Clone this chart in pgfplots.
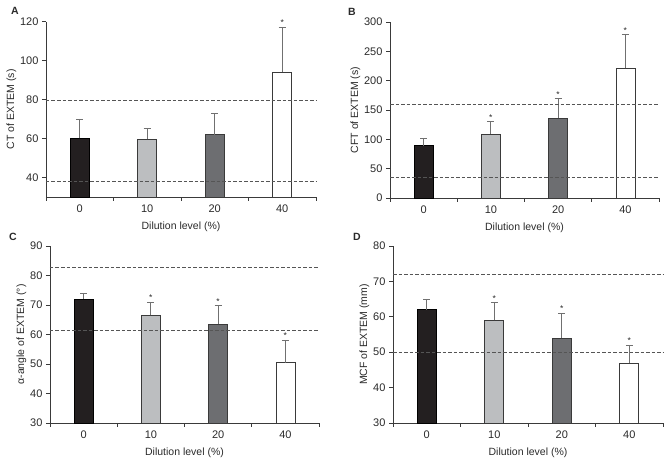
\documentclass[border=0pt]{standalone}
\usepackage{fontspec}
\setmainfont{Liberation Sans}
\usepackage{pgfplots}
\pgfplotsset{compat=1.18}

\definecolor{barblack}{HTML}{231F20}
\definecolor{barlight}{HTML}{BCBEC0}
\definecolor{bardark}{HTML}{6D6E71}
\definecolor{axgray}{HTML}{3A3A3A}
\definecolor{txtgray}{HTML}{2A2A2A}
\definecolor{errgray}{HTML}{707070}
\definecolor{dashgray}{HTML}{555555}

\pgfplotsset{
  panel/.style={
    scale only axis, width=270pt, height=176pt,
    axis x line*=bottom, axis y line*=left,
    axis line style={axgray, line width=0.7pt},
    xmin=-0.5, xmax=3.5,
    xtick={0,1,2,3}, xticklabels={0,10,20,40},
    major x tick style={draw=none},
    minor xtick={-0.5,0.5,1.5,2.5,3.5},
    minor x tick style={axgray, line width=0.7pt},
    minor tick length=4pt,
    major tick length=4pt,
    y tick style={axgray, line width=0.7pt},
    tick align=outside,
    /pgf/number format/assume math mode=true,
    tick label style={font=\fontsize{11}{12}\selectfont, text=txtgray},
    label style={font=\fontsize{10.5}{12}\selectfont, text=txtgray},
    ylabel shift=-3pt,
    xlabel shift=3pt,
    xlabel={Dilution level (\%)},
    clip=false,
  },
  bar/.style={ybar, bar width=19pt, bar shift=0pt, draw=axgray, line width=0.6pt,
    error bars/y dir=plus, error bars/y explicit,
    error bars/error bar style={errgray, line width=0.9pt},
    error bars/error mark options={errgray, rotate=90, mark size=3.5pt, line width=0.9pt}},
  ref/.style={dashgray, line width=0.7pt, dash pattern=on 3.5pt off 2pt},
  star/.style={draw=none, mark=none, nodes near coords={*},
    every node near coord/.style={anchor=south, inner sep=1.2pt, font=\fontsize{8.5}{10}\selectfont, text=txtgray}},
}

\begin{document}
\begin{tikzpicture}
\path[use as bounding box] (0,0) rectangle (669pt,463pt);

% Panel A
\begin{axis}[panel, at={(46pt,266pt)}, anchor=south west, height=175.5pt,
  ymin=30, ymax=120, ytick={40,60,80,100,120}, ylabel={CT of EXTEM (s)}]
\addplot[bar, fill=barblack, draw=black] coordinates {(0,60) +- (0,10)};
\addplot[bar, fill=barlight] coordinates {(1,59.5) +- (0,5.5)};
\addplot[bar, fill=bardark] coordinates {(2,62) +- (0,11)};
\addplot[bar, fill=white] coordinates {(3,94) +- (0,23)};
\addplot[ref] coordinates {(-0.5,79.5) (3.5,79.5)};
\addplot[ref] coordinates {(-0.5,38) (3.5,38)};
\addplot[star] coordinates {(3,117)};
\end{axis}

% Panel B
\begin{axis}[panel, at={(390pt,265pt)}, anchor=south west, width=269pt,
  ymin=0, ymax=300, ytick={0,50,100,150,200,250,300}, ylabel={CFT of EXTEM (s)}]
\addplot[bar, fill=barblack, draw=black] coordinates {(0,89) +- (0,13)};
\addplot[bar, fill=barlight] coordinates {(1,109) +- (0,21)};
\addplot[bar, fill=bardark] coordinates {(2,136) +- (0,33)};
\addplot[bar, fill=white] coordinates {(3,221) +- (0,57)};
\addplot[ref] coordinates {(-0.5,160) (3.5,160)};
\addplot[ref] coordinates {(-0.5,35) (3.5,35)};
\addplot[star] coordinates {(1,130) (2,169) (3,278)};
\end{axis}

% Panel C
\begin{axis}[panel, at={(50pt,40pt)}, anchor=south west, width=269pt, height=177pt,
  ymin=30, ymax=90, ytick={30,40,50,60,70,80,90}, ylabel={α-angle of EXTEM (°)}]
\addplot[bar, fill=barblack, draw=black] coordinates {(0,72) +- (0,2)};
\addplot[bar, fill=barlight] coordinates {(1,66.5) +- (0,4.5)};
\addplot[bar, fill=bardark] coordinates {(2,63.5) +- (0,6.2)};
\addplot[bar, fill=white] coordinates {(3,50.5) +- (0,7.5)};
\addplot[ref] coordinates {(-0.5,82.7) (3.5,82.7)};
\addplot[ref] coordinates {(-0.5,61.3) (3.5,61.3)};
\addplot[star] coordinates {(1,71) (2,69.7) (3,58)};
\end{axis}

% Panel D
\begin{axis}[panel, at={(393pt,40pt)}, anchor=south west, height=177pt,
  ymin=30, ymax=80, ytick={30,40,50,60,70,80}, ylabel={MCF of EXTEM (mm)}]
\addplot[bar, fill=barblack, draw=black] coordinates {(0,62) +- (0,3)};
\addplot[bar, fill=barlight] coordinates {(1,59) +- (0,5)};
\addplot[bar, fill=bardark] coordinates {(2,54) +- (0,7)};
\addplot[bar, fill=white] coordinates {(3,47) +- (0,5)};
\addplot[ref] coordinates {(-0.5,72) (3.5,72)};
\addplot[ref] coordinates {(-0.5,50) (3.5,50)};
\addplot[star] coordinates {(1,64) (2,61) (3,52)};
\end{axis}

\node[font=\bfseries\fontsize{10.5}{12}\selectfont, text=txtgray] at (15pt,452pt) {A};
\node[font=\bfseries\fontsize{10.5}{12}\selectfont, text=txtgray] at (352pt,451pt) {B};
\node[font=\bfseries\fontsize{10.5}{12}\selectfont, text=txtgray] at (13pt,226pt) {C};
\node[font=\bfseries\fontsize{10.5}{12}\selectfont, text=txtgray] at (357pt,226pt) {D};
\end{tikzpicture}
\end{document}
